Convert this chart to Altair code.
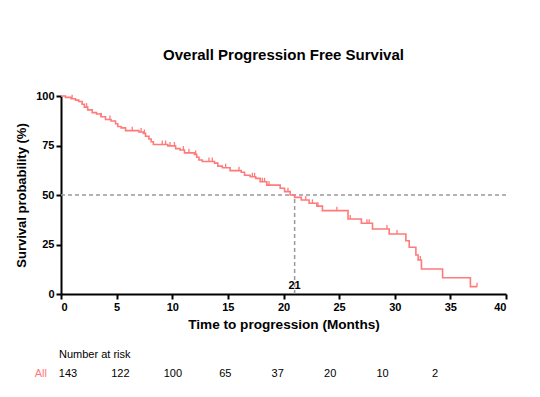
import altair as alt
import pandas as pd
import numpy as np

# Kaplan-Meier step curve (time in months, survival %)
step_times = [0, 0.4, 0.9, 1.3, 1.6, 1.9, 2.1, 2.4, 2.8, 3.2, 3.6, 4.0, 4.5, 4.9, 5.1, 5.4,
              5.8, 7.0, 7.4, 7.6, 7.9, 8.1, 8.3, 9.6, 10.3, 10.7, 11.1, 12.0, 12.2, 12.4,
              12.7, 13.8, 14.1, 14.5, 15.2, 16.2, 16.5, 17.0, 17.5, 17.9, 18.5, 19.7, 20.1,
              20.6, 21.0, 21.6, 22.3, 23.0, 23.5, 25.8, 27.0, 28.0, 29.5, 31.0, 31.3, 31.9,
              32.1, 32.4, 34.3, 36.8, 37.4]
step_surv = [100, 99.3, 98.6, 97.9, 97.2, 95.8, 94.4, 93.0, 91.6, 90.9, 89.5, 88.1, 87.4, 86.0,
             84.6, 83.9, 82.5, 81.8, 81.1, 79.7, 78.3, 76.9, 75.5, 74.8, 73.4, 72.7, 71.3, 70.5,
             69.1, 67.7, 66.9, 66.1, 64.6, 63.8, 62.3, 61.5, 60.0, 59.2, 58.4, 56.7, 55.0, 53.4,
             51.7, 50.0, 48.8, 47.5, 45.8, 44.4, 42.1, 37.9, 35.7, 32.8, 30.3, 26.9, 23.6, 19.7,
             17.2, 12.6, 8.2, 3.7, 3.7]

# censored observations (months)
censor_times = [1.0, 2.3, 3.6, 4.4, 6.4, 7.2, 7.5, 9.1, 9.4, 9.8, 10.2, 11.0, 11.5, 12.1,
                13.3, 13.6, 14.8, 16.0, 17.2, 17.4, 18.1, 18.3, 18.7, 20.4, 22.0, 22.6,
                23.1, 24.8, 26.0, 27.5, 27.7, 29.3, 30.2, 32.3, 37.4]

median_time = 21
risk_times = [0, 5, 10, 15, 20, 25, 30, 35]
risk_counts = [143, 122, 100, 65, 37, 20, 10, 2]

curve_color = "#FF7A7A"
FONT = "Liberation Sans"

curve_df = pd.DataFrame({"t": step_times, "s": step_surv})
st = np.array(step_times)
ss = np.array(step_surv)
cs = [ss[np.searchsorted(st, c, side="right") - 1] for c in censor_times]
censor_df = pd.DataFrame({"t": censor_times, "s": cs, "s2": [v + 2.0 for v in cs]})
risk_df = pd.DataFrame({"t": risk_times, "n": [str(v) for v in risk_counts]})

xs = alt.Scale(domain=[0, 40], nice=False)
ys = alt.Scale(domain=[0, 100], nice=False)

curve = alt.Chart(curve_df).mark_line(interpolate="step-after", color=curve_color, strokeWidth=1.6).encode(
    x=alt.X("t:Q", scale=xs, axis=alt.Axis(values=list(range(0, 41, 5)), title="Time to progression (Months)",
                                           titlePadding=5, titleFontSize=13.6)),
    y=alt.Y("s:Q", scale=ys, axis=alt.Axis(values=[0, 25, 50, 75, 100], title="Survival probability (%)", titlePadding=7)),
)

censors = alt.Chart(censor_df).mark_rule(color=curve_color, strokeWidth=1.3).encode(
    x="t:Q", y="s:Q", y2="s2:Q"
)

hline = alt.Chart(pd.DataFrame({"a": [0], "b": [40], "y": [50]})).mark_rule(
    color="#999999", strokeDash=[4, 3], strokeWidth=1.5
).encode(x="a:Q", x2="b:Q", y="y:Q")

vline = alt.Chart(pd.DataFrame({"x": [median_time], "y0": [0], "y1": [50]})).mark_rule(
    color="#999999", strokeDash=[4, 3], strokeWidth=1.5
).encode(x="x:Q", y="y0:Q", y2="y1:Q")

med_label = alt.Chart(pd.DataFrame({"x": [median_time], "y": [4], "lab": [str(median_time)]})).mark_text(
    font=FONT, fontSize=11, fontWeight="bold", color="black", baseline="middle"
).encode(x="x:Q", y="y:Q", text="lab:N")

main = alt.layer(hline, vline, curve, censors, med_label)

risk = alt.Chart(risk_df).mark_text(font=FONT, fontSize=11, color="black", baseline="middle").encode(
    x=alt.X("t:Q", scale=alt.Scale(domain=[-0.667, 41.77], nice=False, zero=False), axis=None),
    y=alt.value(278),
    text="n:N",
)
risk_title = alt.Chart(pd.DataFrame({"lab": ["Number at risk"]})).mark_text(
    font=FONT, fontSize=11, color="black", align="left", baseline="middle"
).encode(x=alt.value(-2), y=alt.value(259), text="lab:N")
risk_all = alt.Chart(pd.DataFrame({"lab": ["All"]})).mark_text(
    font=FONT, fontSize=11, color=curve_color, align="right", baseline="middle"
).encode(x=alt.value(-14), y=alt.value(278), text="lab:N")

chart = alt.layer(main, risk, risk_title, risk_all).resolve_scale(x="independent").properties(
    width=445,
    height=198,
    autosize=alt.AutoSizeParams(type="none"),
    padding={"left": 53, "top": 88, "right": 26, "bottom": 90},
    title=alt.TitleParams("Overall Progression Free Survival", font=FONT, fontSize=15,
                          fontWeight="bold", color="black", anchor="middle", offset=27),
).configure_view(stroke=None).configure_axis(
    grid=False, domainColor="black", domainWidth=2, tickColor="black", tickWidth=2, tickSize=5,
    labelFont=FONT, labelFontSize=11, labelFontWeight="bold", labelColor="black", labelPadding=2,
    titleFont=FONT, titleFontSize=13, titleFontWeight="bold", titleColor="black",
)

chart.save("out.html", embed_options={"renderer": "svg", "actions": False})
